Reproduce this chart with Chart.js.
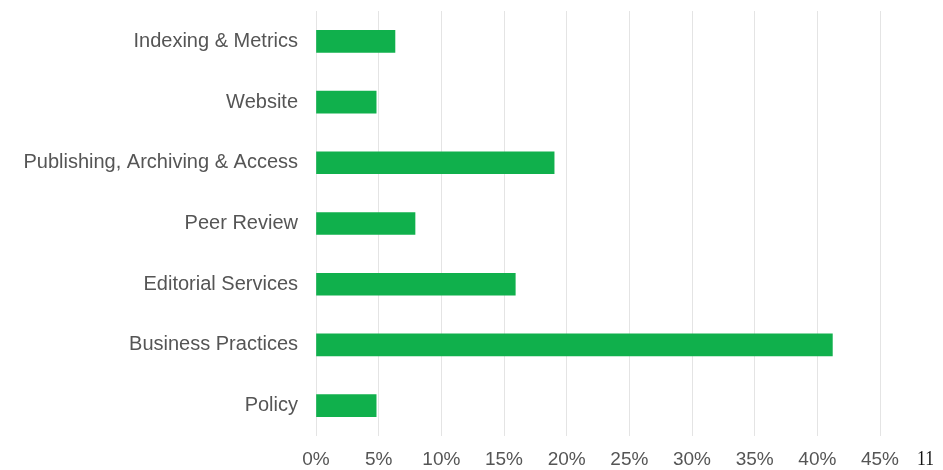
<!DOCTYPE html>
<html>
<head>
<meta charset="utf-8">
<script src="https://cdn.jsdelivr.net/npm/chart.js@4/dist/chart.umd.min.js"></script>
<style>
  html, body { margin: 0; padding: 0; background: #fff; }
  #wrap { position: relative; width: 943px; height: 470px; }
  #page { position: absolute; left: 917px; top: 447px; font: 22px/22px "Liberation Serif", serif; color: #111;
          transform: scaleX(0.8); transform-origin: left top; }
</style>
</head>
<body>
<div id="wrap">
  <canvas id="c" width="943" height="470"></canvas>
  <div id="page">11</div>
</div>
<script>
// Catégories et valeurs (%)
const categories = ['Indexing & Metrics', 'Website', 'Publishing, Archiving & Access', 'Peer Review', 'Editorial Services', 'Business Practices', 'Policy'];
const shares = [6.3, 4.8, 19.0, 7.9, 15.9, 41.2, 4.8];
const tickStep = 5;
const axisMax = 45;

const green = '#10b04c';
const labelGray = '#555555';

new Chart(document.getElementById('c').getContext('2d'), {
  type: 'bar',
  data: {
    labels: categories,
    datasets: [{
      data: shares,
      backgroundColor: green,
      barThickness: 22
    }]
  },
  options: {
    indexAxis: 'y',
    responsive: false,
    animation: false,
    layout: { padding: { top: 11, right: 63, bottom: 0, left: 0 } },
    plugins: { legend: { display: false }, tooltip: { enabled: false } },
    scales: {
      x: {
        min: 0,
        max: axisMax,
        ticks: {
          stepSize: tickStep,
          color: labelGray,
          padding: 12,
          font: { family: 'Liberation Sans', size: 19 },
          callback: v => v + '%'
        },
        grid: { color: '#e4e4e4', drawTicks: false },
        border: { display: false },
        afterFit: s => { s.height = 34; }
      },
      y: {
        ticks: {
          color: labelGray,
          padding: 18,
          font: { family: 'Liberation Sans', size: 20 }
        },
        grid: { display: false, drawTicks: false },
        border: { display: false },
        afterFit: s => { s.width = 316; s.paddingTop = 0; s.paddingBottom = 0; }
      }
    }
  }
});
</script>
</body>
</html>
